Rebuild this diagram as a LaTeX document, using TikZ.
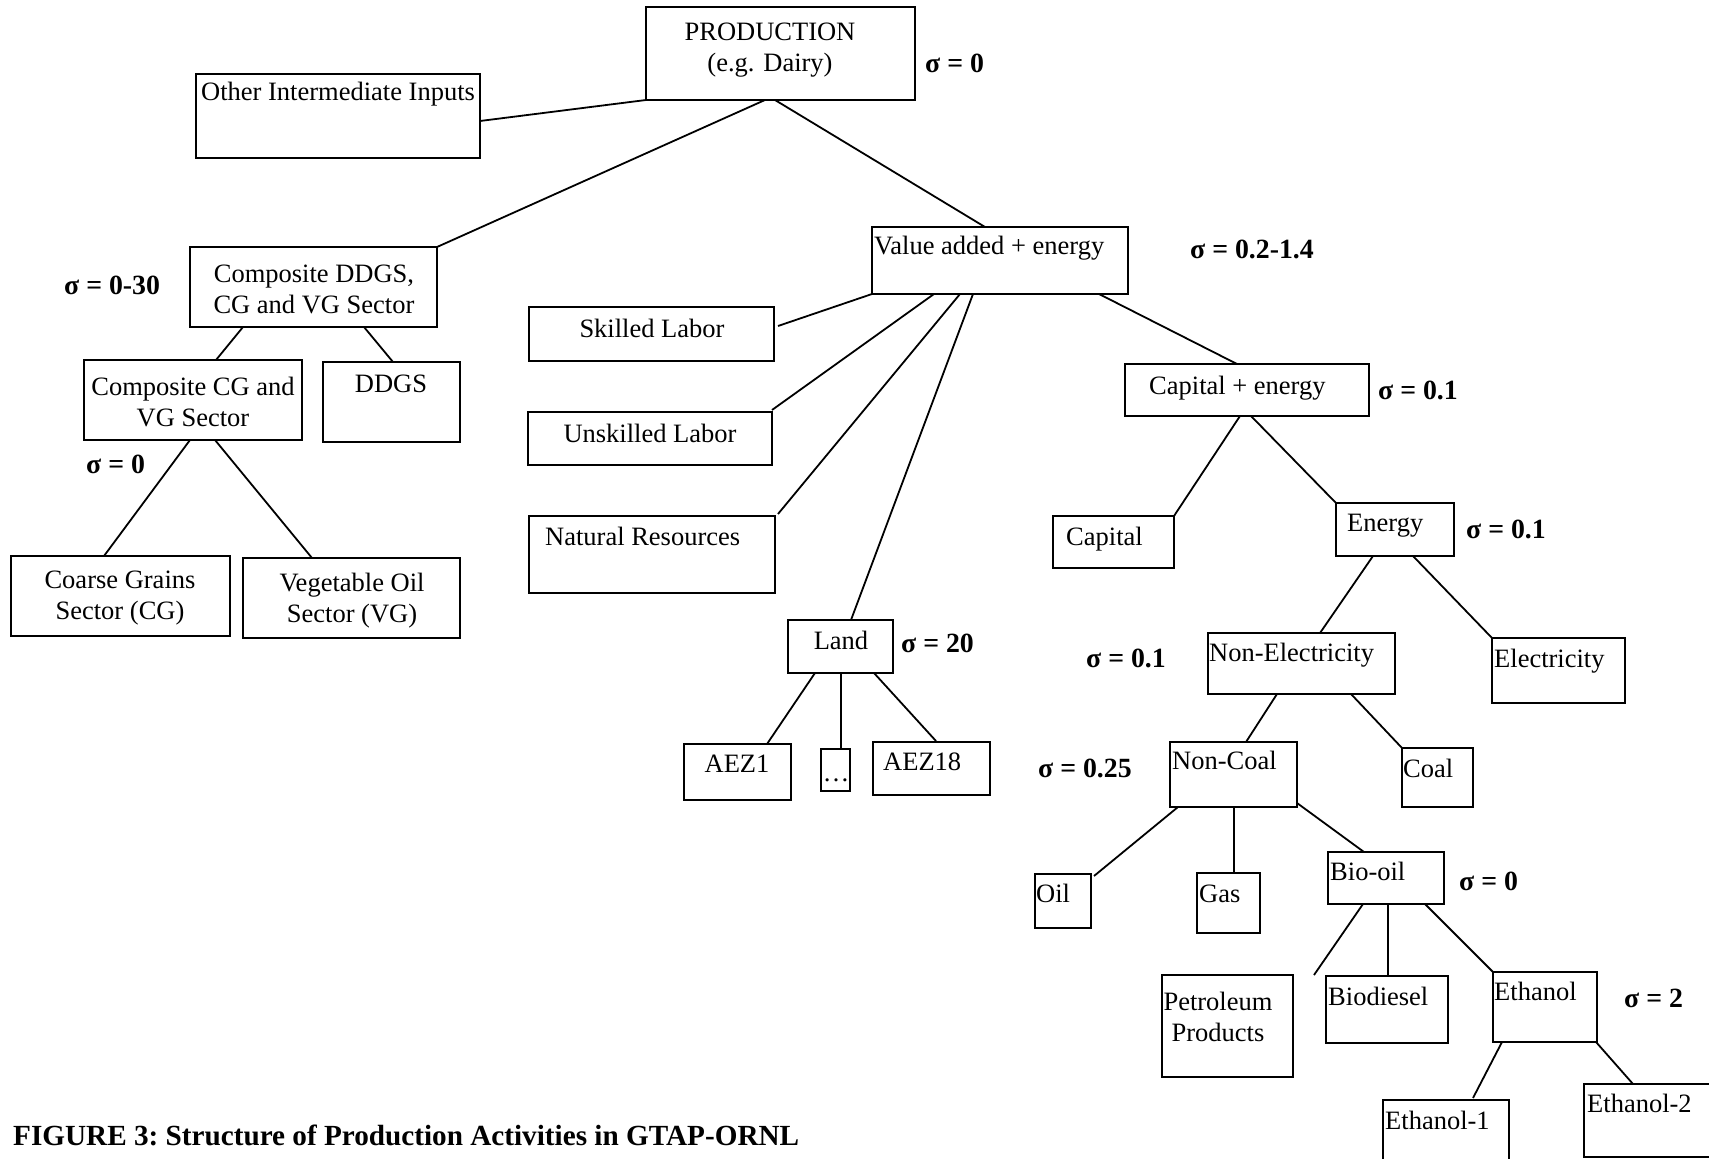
\documentclass[tikz,border=0pt]{standalone}
\usepackage{fontspec}
\setmainfont{Liberation Serif}
\usetikzlibrary{calc}
\newcommand\mybox[5]{\node[box, minimum width={#4-#2}, minimum height={#5-#3}] (#1) at ({(#2+#4)/2},{(#3+#5)/2}) {};}
\begin{document}
\begin{tikzpicture}[x=1pt,y=-1pt,
  box/.style={draw, line width=2.2pt, inner sep=0pt, outer sep=0pt},
  con/.style={line width=1.8pt},
  txt/.style={inner sep=0pt, yshift=-5.5pt, font=\fontsize{26.5}{31}\selectfont},
  sig/.style={inner sep=0pt, yshift=-5.5pt, anchor=mid west, font=\fontsize{27.8}{31}\selectfont\bfseries}]
\useasboundingbox (0,0) rectangle (1709,1159);
\clip (0,0) rectangle (1709,1159);
\fill[white] (0,0) rectangle (1709,1159);
% boxes
\mybox{prod}{646}{7}{915}{100}
\mybox{other}{196}{74}{480}{158}
\mybox{cdd}{190}{247}{437}{327}
\mybox{va}{872}{227}{1128}{294}
\mybox{skl}{529}{307}{774}{361}
\mybox{ccv}{84}{360}{302}{440}
\mybox{ddgs}{323}{362}{460}{442}
\mybox{unsk}{528}{412}{772}{465}
\mybox{nat}{529}{516}{775}{593}
\mybox{cg}{11}{556}{230}{636}
\mybox{vg}{243}{558}{460}{638}
\mybox{land}{788}{620}{893}{673}
\mybox{aeza}{684}{744}{791}{800}
\mybox{dots}{821}{749}{850}{791}
\mybox{aezb}{873}{742}{990}{795}
\mybox{ce}{1125}{364}{1369}{416}
\mybox{cap}{1053}{516}{1174}{568}
\mybox{en}{1336}{503}{1454}{556}
\mybox{nel}{1208}{633}{1395}{694}
\mybox{el}{1492}{638}{1625}{703}
\mybox{nc}{1170}{742}{1297}{807}
\mybox{coal}{1402}{748}{1473}{807}
\mybox{oil}{1035}{874}{1091}{928}
\mybox{gas}{1197}{873}{1260}{933}
\mybox{bio}{1328}{852}{1444}{904}
\mybox{pet}{1162}{975}{1293}{1077}
\mybox{biod}{1326}{976}{1448}{1043}
\mybox{eth}{1493}{972}{1597}{1042}
\mybox{etha}{1383}{1100}{1509}{1180}
\mybox{ethb}{1584}{1084}{1730}{1157}
% texts
\node[txt, align=center] (tprod) at (770,45) {PRODUCTION\\(e.g. Dairy)};
\node[txt, anchor=mid west] (tother) at (201,93) {Other Intermediate Inputs};
\node[txt, align=center] (tcdd) at (314,284) {Composite DDGS,\\CG and VG Sector};
\node[txt, anchor=mid west] (tva) at (874,247) {Value added + energy};
\node[txt, anchor=mid] (tskl) at (652,330) {Skilled Labor};
\node[txt, align=center] (tccv) at (193,397) {Composite CG and\\VG Sector};
\node[txt, anchor=mid] (tddgs) at (391,385) {DDGS};
\node[txt, anchor=mid] (tunsk) at (650,435) {Unskilled Labor};
\node[txt, anchor=mid west] (tnat) at (545,538) {Natural Resources};
\node[txt, align=center] (tcg) at (120,593) {Coarse Grains\\Sector (CG)};
\node[txt, align=center] (tvg) at (352,595) {Vegetable Oil\\Sector (VG)};
\node[txt, anchor=mid] (tland) at (841,642) {Land};
\node[txt, anchor=mid] (taeza) at (737,765) {AEZ1};
\node[txt, anchor=base] (tdots) at (836,776) {…};
\node[txt, anchor=mid west] (taezb) at (883,763) {AEZ18};
\node[txt, anchor=mid west] (tce) at (1149,387) {Capital + energy};
\node[txt, anchor=mid west] (tcap) at (1066,538) {Capital};
\node[txt, anchor=mid west] (ten) at (1347,524) {Energy};
\node[txt, anchor=mid west] (tnel) at (1209,654) {Non-Electricity};
\node[txt, anchor=mid west] (tel) at (1494,660) {Electricity};
\node[txt, anchor=mid west] (tnc) at (1172,762) {Non-Coal};
\node[txt, anchor=mid west] (tcoal) at (1403,770) {Coal};
\node[txt, anchor=mid west] (toil) at (1036,895) {Oil};
\node[txt, anchor=mid west] (tgas) at (1199,895) {Gas};
\node[txt, anchor=mid west] (tbio) at (1330,873) {Bio-oil};
\node[txt, align=center] (tpet) at (1218,1011) {Petroleum\\Products};
\node[txt, anchor=mid west] (tbiod) at (1328,998) {Biodiesel};
\node[txt, anchor=mid west] (teth) at (1494,993) {Ethanol};
\node[txt, anchor=mid west] (tetha) at (1385,1122) {Ethanol-1};
\node[txt, anchor=mid west] (tethb) at (1587,1105) {Ethanol-2};
% sigma labels
\node[sig] (s1) at (925,65) {σ = 0};
\node[sig] (s2) at (64,287) {σ = 0-30};
\node[sig] (s3) at (1190,251) {σ = 0.2-1.4};
\node[sig] (s4) at (86,466) {σ = 0};
\node[sig] (s5) at (901,645) {σ = 20};
\node[sig] (s6) at (1378,392) {σ = 0.1};
\node[sig] (s7) at (1466,531) {σ = 0.1};
\node[sig] (s8) at (1086,660) {σ = 0.1};
\node[sig] (s9) at (1038,770) {σ = 0.25};
\node[sig] (s10) at (1459,883) {σ = 0};
\node[sig] (s11) at (1624,1000) {σ = 2};
% caption
\node[sig, font=\fontsize{29.2}{33}\selectfont\bfseries\frenchspacing] (cap3) at (13,1138) {FIGURE 3: Structure of Production Activities in GTAP-ORNL};
% connectors
\coordinate (bfree) at (1314,975);
\draw[con] (prod.south west) -- ($(other.north east)+(0,47)$);
\draw[con] ($(prod.south west)+(119,0)$) -- (cdd.north east);
\draw[con] ($(prod.south west)+(129,0)$) -- ($(va.north west)+(113,0)$);
\draw[con] (va.south west) -- ($(skl.north east)+(4,19)$);
\draw[con] ($(va.south west)+(62,0)$) -- ($(unsk.north east)+(0,-2)$);
\draw[con] ($(va.south west)+(88,0)$) -- ($(nat.north east)+(3,-2)$);
\draw[con] ($(va.south west)+(101,0)$) -- ($(land.north west)+(63,0)$);
\draw[con] ($(va.south west)+(227,0)$) -- ($(ce.north west)+(112,0)$);
\draw[con] ($(cdd.south west)+(53,0)$) -- ($(ccv.north west)+(132,0)$);
\draw[con] ($(cdd.south west)+(174,0)$) -- ($(ddgs.north west)+(70,0)$);
\draw[con] ($(ccv.south west)+(106,0)$) -- ($(cg.north west)+(93,0)$);
\draw[con] ($(ccv.south west)+(131,0)$) -- ($(vg.north west)+(69,0)$);
\draw[con] ($(land.south west)+(27,0)$) -- ($(aeza.north west)+(83,0)$);
\draw[con] ($(land.south west)+(53,0)$) -- ($(dots.north west)+(20,0)$);
\draw[con] ($(land.south west)+(86,0)$) -- ($(aezb.north west)+(63,-1)$);
\draw[con] ($(ce.south west)+(115,0)$) -- (cap.north east);
\draw[con] ($(ce.south west)+(126,0)$) -- (en.north west);
\draw[con] ($(en.south west)+(37,0)$) -- ($(nel.north west)+(112,0)$);
\draw[con] ($(en.south west)+(77,0)$) -- (el.north west);
\draw[con] ($(nel.south west)+(69,0)$) -- ($(nc.north west)+(76,0)$);
\draw[con] ($(nel.south west)+(143,0)$) -- (coal.north west);
\draw[con] ($(nc.south west)+(8,0)$) -- ($(oil.north east)+(3,2)$);
\draw[con] ($(nc.south west)+(64,0)$) -- ($(gas.north west)+(37,0)$);
\draw[con] ($(nc.south east)+(0,-4)$) -- ($(bio.north west)+(36,0)$);
\draw[con] ($(bio.south west)+(35,0)$) -- (bfree);
\draw[con] ($(bio.south west)+(60,0)$) -- ($(biod.north west)+(62,0)$);
\draw[con] ($(bio.south west)+(97,0)$) -- (eth.north west);
\draw[con] ($(eth.south west)+(9,0)$) -- ($(etha.north west)+(90,-2)$);
\draw[con] ($(eth.south west)+(103,0)$) -- ($(ethb.north west)+(49,0)$);
\end{tikzpicture}
\end{document}
